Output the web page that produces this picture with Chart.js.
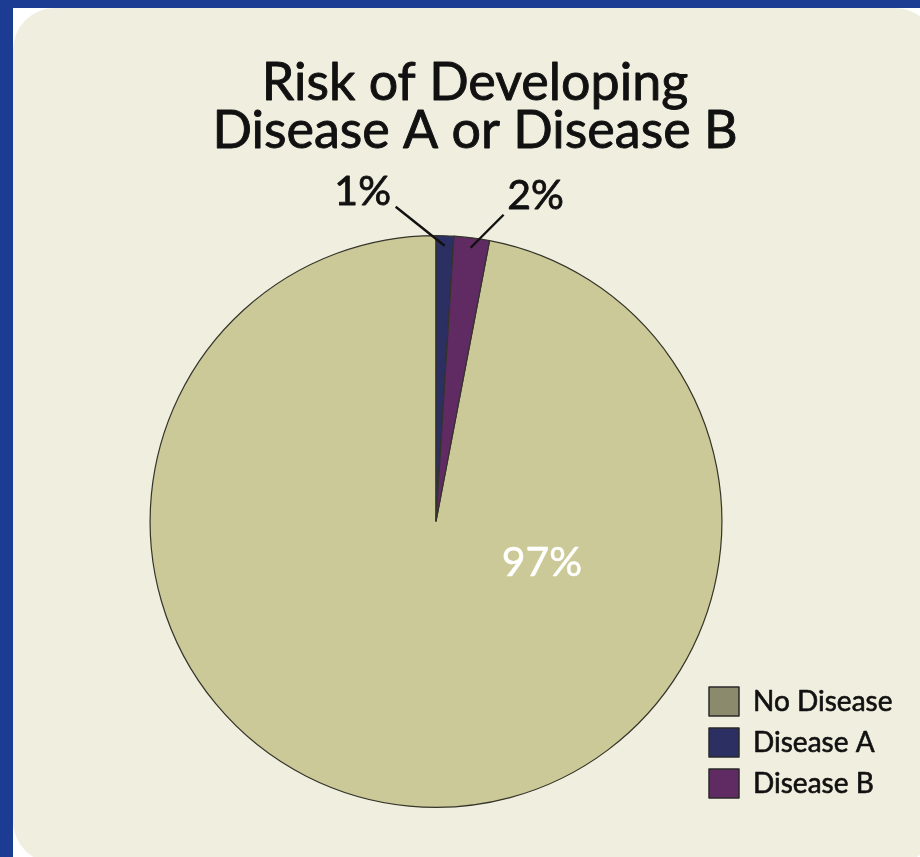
<!DOCTYPE html>
<html>
<head>
<meta charset="utf-8">
<style>
  html, body { margin: 0; padding: 0; background: #1c3c93; }
  #wrap { width: 920px; height: 857px; }
</style>
<script src="https://cdn.jsdelivr.net/npm/chart.js@4/dist/chart.umd.min.js"></script>
</head>
<body>
<div id="wrap"><canvas id="c" width="920" height="857"></canvas></div>
<script>
// Chart content
const titleLines = ['Risk of Developing', 'Disease A or Disease B'];
const categories = ['No Disease', 'Disease A', 'Disease B'];
const shares = [97, 1, 2];
const sliceColors = ['#cbc997', '#2b2f62', '#5f2b62'];
const legendSwatches = ['#8b8a6c', '#2b2f62', '#5f2b62'];

const FONT = 'Lato, "Open Sans", sans-serif';

// Filled text with a hairline outline for a slightly heavier face
function heavyText(ctx, text, x, y, color, weight) {
  ctx.fillStyle = color;
  ctx.strokeStyle = color;
  ctx.lineWidth = weight;
  ctx.lineJoin = 'round';
  ctx.fillText(text, x, y);
  ctx.strokeText(text, x, y);
}

// Background: blue frame with a rounded cream panel
const panelPlugin = {
  id: 'panel',
  beforeDraw(chart) {
    const ctx = chart.ctx;
    ctx.save();
    ctx.fillStyle = '#1c3c93';
    ctx.fillRect(0, 0, chart.width, chart.height);
    ctx.fillStyle = '#ffffff';
    ctx.fillRect(13, 8, chart.width - 13, chart.height - 8);
    ctx.fillStyle = '#f0efdf';
    ctx.beginPath();
    ctx.roundRect(13, 8, 924, 855, 42);
    ctx.fill();
    ctx.restore();
  }
};

// Title, value labels with leader lines, and legend
const annotatePlugin = {
  id: 'annotate',
  afterDraw(chart) {
    const ctx = chart.ctx;
    const meta = chart.getDatasetMeta(0);
    const arcs = meta.data;
    const total = shares.reduce((a, b) => a + b, 0);
    ctx.save();

    // title
    ctx.textAlign = 'center';
    ctx.textBaseline = 'alphabetic';
    ctx.font = '52px ' + FONT;
    titleLines.forEach((t, i) => heavyText(ctx, t, 475, 100 + i * 48, '#111111', 0.9));

    // value labels
    const pct = (i) => Math.round(shares[i] / total * 100) + '%';
    // small slices: callout above the pie
    const callouts = { 1: { dx: -49, dy: -39, lx: -33, ly: -15 }, 2: { dx: 33, dy: -33, lx: 32, ly: -19 } };
    Object.keys(callouts).forEach(k => {
      const i = +k;
      const a = arcs[i];
      const mid = (a.startAngle + a.endAngle) / 2;
      const r = a.outerRadius - 10;
      const x0 = a.x + Math.cos(mid) * r;
      const y0 = a.y + Math.sin(mid) * r;
      const c = callouts[k];
      const x1 = x0 + c.dx, y1 = y0 + c.dy;
      ctx.strokeStyle = '#111111';
      ctx.lineWidth = 2.4;
      ctx.beginPath();
      ctx.moveTo(x0, y0);
      ctx.lineTo(x1, y1);
      ctx.stroke();
      ctx.font = '41px ' + FONT;
      ctx.textAlign = 'center';
      ctx.textBaseline = 'middle';
      heavyText(ctx, pct(i), x1 + c.lx, y1 + c.ly, '#111111', 0.8);
    });
    // large slice: label inside
    const big = arcs[0];
    ctx.font = '41px ' + FONT;
    ctx.textAlign = 'center';
    ctx.textBaseline = 'middle';
    heavyText(ctx, pct(0), big.x + 106, big.y + 41, '#ffffff', 0.5);

    // legend
    ctx.font = '28px ' + FONT;
    ctx.textAlign = 'left';
    categories.forEach((name, i) => {
      const y = 687 + i * 41;
      ctx.fillStyle = legendSwatches[i];
      ctx.fillRect(709, y, 30, 29);
      ctx.strokeStyle = '#2a2a2a';
      ctx.lineWidth = 1.5;
      ctx.strokeRect(709, y, 30, 29);
      ctx.textBaseline = 'middle';
      heavyText(ctx, name, 753, y + 15, '#111111', 0.6);
    });
    ctx.restore();
  }
};

new Chart(document.getElementById('c'), {
  type: 'pie',
  data: {
    labels: categories,
    datasets: [{
      data: shares,
      backgroundColor: sliceColors,
      borderColor: '#34342a',
      borderWidth: 1.2
    }]
  },
  options: {
    responsive: false,
    animation: false,
    rotation: (shares[1] + shares[2]) / 100 * 360,
    layout: { padding: { top: 235, bottom: 49, left: 0, right: 48 } },
    plugins: {
      legend: { display: false },
      title: { display: false },
      tooltip: { enabled: false }
    }
  },
  plugins: [panelPlugin, annotatePlugin]
});
</script>
</body>
</html>
